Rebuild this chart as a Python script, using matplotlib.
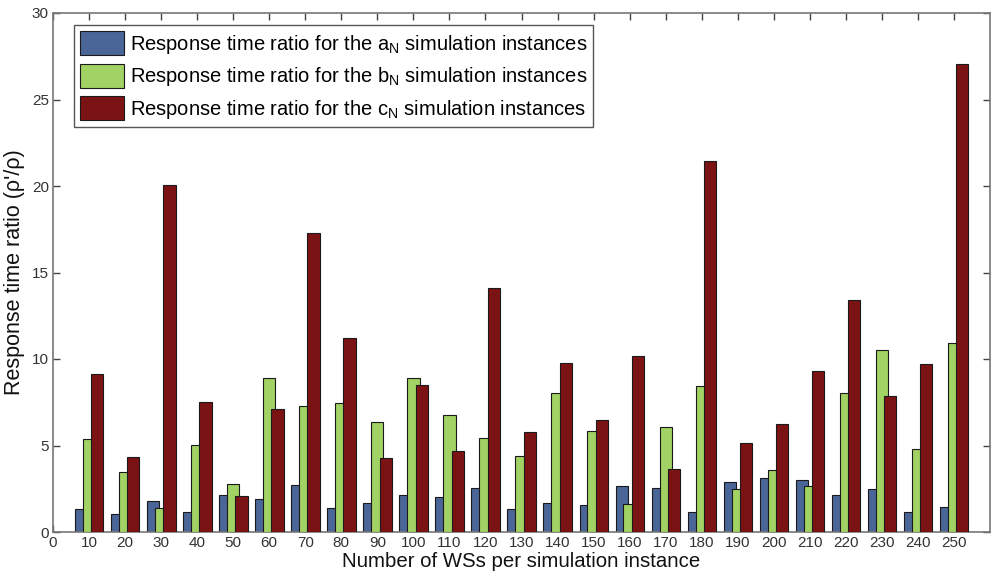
import matplotlib
matplotlib.use("Agg")
import matplotlib.pyplot as plt
import numpy as np

plt.rcParams['font.family'] = ['Liberation Sans', 'DejaVu Sans']
plt.rcParams['mathtext.fontset'] = 'custom'
plt.rcParams['mathtext.rm'] = 'Liberation Sans'
plt.rcParams['mathtext.it'] = 'Liberation Sans'

ws = [10, 20, 30, 40, 50, 60, 70, 80, 90, 100, 110, 120, 130,
      140, 150, 160, 170, 180, 190, 200, 210, 220, 230, 240, 250]
a_ratio = [1.31, 1.04, 1.77, 1.15, 2.13, 1.92, 2.71, 1.38, 1.67, 2.13, 2.02, 2.52, 1.31,
           1.67, 1.54, 2.67, 2.52, 1.15, 2.88, 3.12, 3.00, 2.13, 2.46, 1.15, 1.44]
b_ratio = [5.35, 3.48, 1.37, 5.04, 2.79, 8.90, 7.31, 7.48, 6.33, 8.90, 6.77, 5.46, 4.42,
           8.02, 5.85, 1.60, 6.06, 8.46, 2.50, 3.60, 2.67, 8.02, 10.52, 4.77, 10.92]
c_ratio = [9.15, 4.31, 20.06, 7.52, 2.06, 7.10, 17.29, 11.19, 4.25, 8.50, 4.71, 14.13, 5.79,
           9.77, 6.50, 10.19, 3.65, 21.42, 5.12, 6.27, 9.29, 13.40, 7.85, 9.69, 27.06]
labels = ["Response time ratio for the a$_{\\mathrm{N}}$ simulation instances",
          "Response time ratio for the b$_{\\mathrm{N}}$ simulation instances",
          "Response time ratio for the c$_{\\mathrm{N}}$ simulation instances"]
colors = ['#4a6699', '#a2d164', '#7b1315']

fig = plt.figure(figsize=(9.91, 5.74), dpi=100)
ax = fig.add_axes([53/991, 1 - 532/574, (990-53)/991, (532-13)/574])

x = np.array(ws, dtype=float)
w = 3.4
offs = [-2.2, 0.0, 2.3]
for i, (vals, col, lab) in enumerate(zip([a_ratio, b_ratio, c_ratio], colors, labels)):
    ax.bar(x + offs[i], vals, width=w, color=col, edgecolor='#1a1a1a',
           linewidth=0.8, label=lab, zorder=2 + i)

ax.set_xlim(0, 260)
ax.set_ylim(0, 30)
ax.set_xticks([0] + ws)
ax.set_yticks(np.arange(0, 31, 5))
ax.tick_params(direction='in', top=True, right=True, length=5, width=1,
               colors='#444444', labelsize=11, labelcolor='#333333', pad=3)
for s in ax.spines.values():
    s.set_color('#777777')
    s.set_linewidth(1.2)

ax.set_xlabel("Number of WSs per simulation instance", fontsize=14.7, color='#111111', labelpad=1)
ax.set_ylabel("Response time ratio (ρ'/ρ)", fontsize=15.5, color='#111111', labelpad=5)

leg = ax.legend(loc='upper left', bbox_to_anchor=(0.022, 0.977), borderaxespad=0,
                fontsize=14.5, handlelength=2.2, handleheight=1.45, handletextpad=0.3,
                labelspacing=0.4, borderpad=0.3, fancybox=False, framealpha=1,
                edgecolor='#555555')
leg.get_frame().set_linewidth(1.0)
leg.set_zorder(10)

fig.savefig("out.png", dpi=100)
